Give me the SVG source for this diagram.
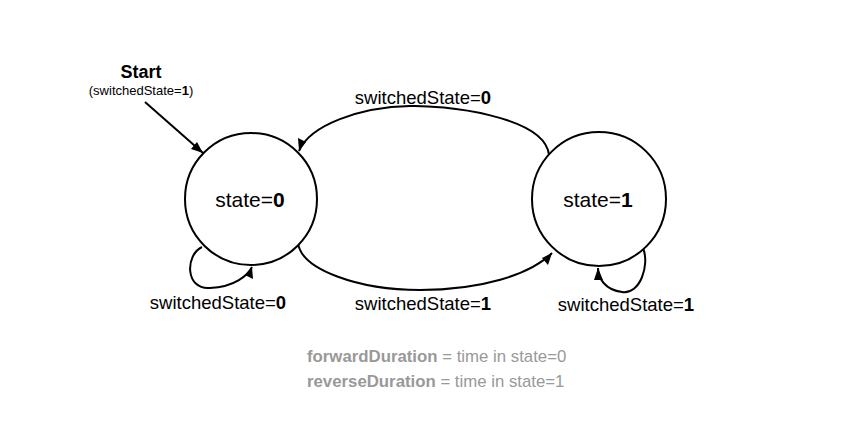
<svg xmlns="http://www.w3.org/2000/svg" width="860" height="433" viewBox="0 0 860 433">
<style>
text{font-family:"Liberation Sans",Arial,sans-serif;fill:#000}
.lbl{font-size:18.5px;text-anchor:middle}
.st{font-size:21px;text-anchor:middle}
.note{font-size:16.8px;fill:#999}
.node{fill:#fff;stroke:#000;stroke-width:2}
.edge{fill:none;stroke:#000;stroke-width:2}
.head{fill:#000}
.b{font-weight:bold}
</style>
<rect width="860" height="433" fill="#fff"/>
<g id="connectors">
<path class="edge" d="M145,102 L203,153"/>
<path class="head" d="M203,153 l-12,-4 l6,-7 z"/>
<path class="edge" d="M549,155 C545,115 440,105 410,106 C360,107 310,125 299,151"/>
<path class="head" d="M299,151 l-1,-13 l8,4 z"/>
<path class="edge" d="M298,242 C300,270 360,290 420,290 C480,290 530,275 552,253"/>
<path class="head" d="M552,253 l-4,12 l-6,-7 z"/>
<path class="edge" d="M202,247 C185,255 185,290 210,288 C235,287 248,275 252,267"/>
<path class="head" d="M252,267 l1,12 l-8,-4 z"/>
<path class="edge" d="M643,248 C650,265 640,295 622,292 C605,290 598,278 598,268"/>
<path class="head" d="M598,268 l5,12 l-9,0 z"/>
</g>
<g id="start">
<text x="141" y="78" class="b" style="font-size:18px;text-anchor:middle">Start</text>
<text x="141" y="95" style="font-size:13px;text-anchor:middle">(switchedState=<tspan class="b">1</tspan>)</text>
</g>
<g id="state0">
<circle class="node" cx="251" cy="199" r="66"/>
<text x="250" y="207" class="st">state=<tspan class="b">0</tspan></text>
</g>
<g id="state1">
<circle class="node" cx="599" cy="199" r="67"/>
<text x="598" y="207" class="st">state=<tspan class="b">1</tspan></text>
</g>
<g id="labels">
<text x="423" y="104" class="lbl">switchedState=<tspan class="b">0</tspan></text>
<text x="423" y="310" class="lbl">switchedState=<tspan class="b">1</tspan></text>
<text x="218" y="309" class="lbl">switchedState=<tspan class="b">0</tspan></text>
<text x="626" y="311" class="lbl">switchedState=<tspan class="b">1</tspan></text>
</g>
<g id="notes">
<text x="307" y="362" class="note"><tspan class="b">forwardDuration</tspan> = time in state=0</text>
<text x="307" y="387" class="note"><tspan class="b">reverseDuration</tspan> = time in state=1</text>
</g>
</svg>
